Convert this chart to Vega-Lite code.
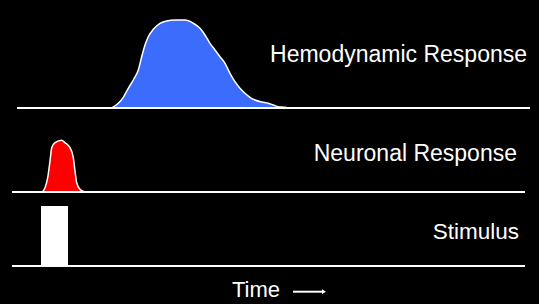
{
  "$schema": "https://vega.github.io/schema/vega-lite/v6.json",
  "background": "#000000",
  "padding": 0,
  "spacing": 0,
  "bounds": "flush",
  "config": {
    "view": {"stroke": null},
    "axis": {"disable": true},
    "text": {"font": "Liberation Sans", "color": "#ffffff"}
  },
  "datasets": {
    "hemo": [
      {"t": 111.7, "amp": 0}, {"t": 118.3, "amp": 4.7}, {"t": 123.3, "amp": 10.7},
      {"t": 128.3, "amp": 19.7}, {"t": 133.3, "amp": 28}, {"t": 138.3, "amp": 38},
      {"t": 141.7, "amp": 51.3}, {"t": 145, "amp": 63}, {"t": 148.3, "amp": 71.3},
      {"t": 153.3, "amp": 78.7}, {"t": 160, "amp": 84.7}, {"t": 166.7, "amp": 87},
      {"t": 175, "amp": 88}, {"t": 185, "amp": 88}, {"t": 193.3, "amp": 84.7},
      {"t": 200, "amp": 79.7}, {"t": 205, "amp": 73}, {"t": 210, "amp": 64.7},
      {"t": 215, "amp": 58}, {"t": 220, "amp": 51.3}, {"t": 225, "amp": 44.7},
      {"t": 230, "amp": 34.7}, {"t": 235, "amp": 26.3}, {"t": 240, "amp": 19.7},
      {"t": 245, "amp": 14.7}, {"t": 250, "amp": 10.7}, {"t": 255, "amp": 8},
      {"t": 261.7, "amp": 6}, {"t": 268.3, "amp": 4.7}, {"t": 273.3, "amp": 3},
      {"t": 278.3, "amp": 1.3}, {"t": 285, "amp": 0.7}, {"t": 288, "amp": 0}
    ],
    "neuro": [
      {"t": 42.3, "amp": 0}, {"t": 45, "amp": 4.3}, {"t": 47.7, "amp": 14.3},
      {"t": 50, "amp": 31}, {"t": 51.7, "amp": 44.3}, {"t": 55, "amp": 49.3},
      {"t": 61.7, "amp": 51.7}, {"t": 65, "amp": 49.3}, {"t": 70, "amp": 44.3},
      {"t": 73.3, "amp": 34.3}, {"t": 75, "amp": 21}, {"t": 76.7, "amp": 9.3},
      {"t": 80, "amp": 2.7}, {"t": 85, "amp": 0}
    ]
  },
  "vconcat": [
    {
      "width": 539,
      "height": 110,
      "layer": [
        {
          "data": {"name": "hemo"},
          "mark": {"type": "area", "fill": "#3b6cfb", "stroke": "#ffffff", "strokeWidth": 1.5, "interpolate": "monotone"},
          "encoding": {
            "x": {"field": "t", "type": "quantitative", "scale": {"domain": [0, 539], "nice": false}},
            "y": {"field": "amp", "type": "quantitative", "scale": {"domain": [-2, 108], "nice": false, "zero": false}},
            "y2": {"datum": 0}
          }
        },
        {
          "data": {"values": [{"start": 17, "end": 530}]},
          "mark": {"type": "rule", "stroke": "#ffffff", "strokeWidth": 2},
          "encoding": {
            "x": {"field": "start", "type": "quantitative"},
            "x2": {"field": "end"},
            "y": {"datum": 0}
          }
        },
        {
          "data": {"values": [{"label": "Hemodynamic Response", "t": 527, "amp": 46}]},
          "mark": {"type": "text", "align": "right", "baseline": "alphabetic", "fontSize": 23},
          "encoding": {
            "x": {"field": "t", "type": "quantitative"},
            "y": {"field": "amp", "type": "quantitative"},
            "text": {"field": "label"}
          }
        }
      ]
    },
    {
      "width": 539,
      "height": 84,
      "layer": [
        {
          "data": {"name": "neuro"},
          "mark": {"type": "area", "fill": "#ff0000", "stroke": "#ffffff", "strokeWidth": 1.5, "interpolate": "monotone"},
          "encoding": {
            "x": {"field": "t", "type": "quantitative", "scale": {"domain": [0, 539], "nice": false}},
            "y": {"field": "amp", "type": "quantitative", "scale": {"domain": [-2, 82], "nice": false, "zero": false}},
            "y2": {"datum": 0}
          }
        },
        {
          "data": {"values": [{"start": 12, "end": 525}]},
          "mark": {"type": "rule", "stroke": "#ffffff", "strokeWidth": 2},
          "encoding": {
            "x": {"field": "start", "type": "quantitative"},
            "x2": {"field": "end"},
            "y": {"datum": 0}
          }
        },
        {
          "data": {"values": [{"label": "Neuronal Response", "t": 517, "amp": 31}]},
          "mark": {"type": "text", "align": "right", "baseline": "alphabetic", "fontSize": 23},
          "encoding": {
            "x": {"field": "t", "type": "quantitative"},
            "y": {"field": "amp", "type": "quantitative"},
            "text": {"field": "label"}
          }
        }
      ]
    },
    {
      "width": 539,
      "height": 74,
      "layer": [
        {
          "data": {"values": [{"onset": 41, "offset": 68, "amp": 60}]},
          "mark": {"type": "rect", "fill": "#ffffff"},
          "encoding": {
            "x": {"field": "onset", "type": "quantitative", "scale": {"domain": [0, 539], "nice": false}},
            "x2": {"field": "offset"},
            "y": {"field": "amp", "type": "quantitative", "scale": {"domain": [-2, 72], "nice": false, "zero": false}},
            "y2": {"datum": 0}
          }
        },
        {
          "data": {"values": [{"start": 12, "end": 525}]},
          "mark": {"type": "rule", "stroke": "#ffffff", "strokeWidth": 2},
          "encoding": {
            "x": {"field": "start", "type": "quantitative"},
            "x2": {"field": "end"},
            "y": {"datum": 0}
          }
        },
        {
          "data": {"values": [{"label": "Stimulus", "t": 519, "amp": 27}]},
          "mark": {"type": "text", "align": "right", "baseline": "alphabetic", "fontSize": 22.5},
          "encoding": {
            "x": {"field": "t", "type": "quantitative"},
            "y": {"field": "amp", "type": "quantitative"},
            "text": {"field": "label"}
          }
        }
      ]
    },
    {
      "width": 539,
      "height": 36,
      "layer": [
        {
          "data": {"values": [{"label": "Time", "t": 232, "v": 7.3}]},
          "mark": {"type": "text", "align": "left", "baseline": "alphabetic", "fontSize": 22},
          "encoding": {
            "x": {"field": "t", "type": "quantitative", "scale": {"domain": [0, 539], "nice": false}},
            "y": {"field": "v", "type": "quantitative", "scale": {"domain": [0, 36], "nice": false, "zero": false}},
            "text": {"field": "label"}
          }
        },
        {
          "data": {"values": [{"start": 293, "end": 322, "v": 12.3}]},
          "mark": {"type": "rule", "stroke": "#ffffff", "strokeWidth": 2},
          "encoding": {
            "x": {"field": "start", "type": "quantitative"},
            "x2": {"field": "end"},
            "y": {"field": "v", "type": "quantitative"}
          }
        },
        {
          "data": {"values": [{"t": 324, "v": 12.3}]},
          "mark": {"type": "point", "shape": "triangle-right", "filled": true, "fill": "#ffffff", "opacity": 1, "size": 22},
          "encoding": {
            "x": {"field": "t", "type": "quantitative"},
            "y": {"field": "v", "type": "quantitative"}
          }
        }
      ]
    }
  ]
}
